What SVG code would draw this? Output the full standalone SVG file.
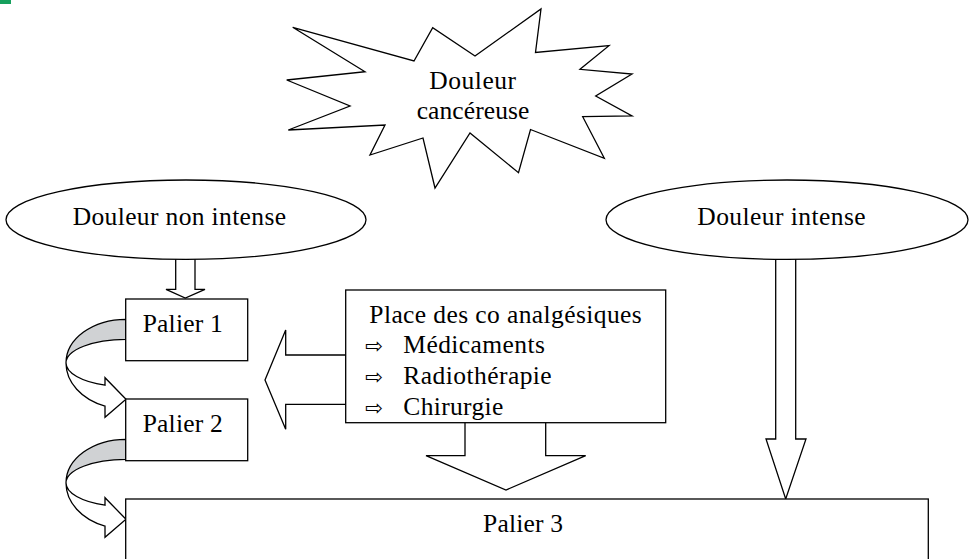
<svg xmlns="http://www.w3.org/2000/svg" width="974" height="559" viewBox="0 0 974 559">
<style>
.s{fill:#fff;stroke:#000;stroke-width:1.3;stroke-linejoin:miter}
.g{fill:#d0d2d4;stroke:#000;stroke-width:1.3}
.t{font-family:"Liberation Serif","Times New Roman",serif;font-size:25.5px;fill:#000}
.b{font-family:"DejaVu Sans",sans-serif;font-size:21px;fill:#000}
</style>
<defs>
<g id="curve">
<path class="g" d="M126,319.3 A60,43.7 0 0 0 66,363 A60,23.7 0 0 1 126,339.3 Z"/>
<path class="s" d="M66,363 A60,46 0 0 0 105,406.1 L105,417.3 L126,399.3 L105,377.7 L105,385.2 A60,23.7 0 0 1 66,363 Z"/>
</g>
</defs>
<rect x="0" y="0" width="11" height="4" fill="#16a05d"/>
<g id="connectors">
<polygon class="s" points="175.7,258 195,258 195,289.3 205,289.3 185.3,298 166,289.3 175.7,289.3"/>
<polygon class="s" points="775.7,258 795.7,258 795.7,439 806,439 785.7,499 766,439 775.7,439"/>
<polygon class="s" points="346,355 285.7,355 285.7,330 265,380 285.7,429.3 285.7,404.3 346,404.3"/>
<polygon class="s" points="465,422 465,455.7 426,455.7 506,490 585.7,455.7 545.7,455.7 545.7,422"/>
<use href="#curve"/>
<use href="#curve" transform="translate(0,120)"/>
</g>
<g id="star">
<polygon class="s" points="292.7,27.3 414,61 432.7,27.7 475,56 541,9 535.5,52.5 609,45.7 580,69.3 632,74 595.7,96 632,116 582.7,116.7 604.3,158.3 530.5,129.5 518.5,172.7 470,133 435,188 423,138 370,155 385,125 288.3,130 350,106 286.7,80 365,71.7"/>
<text class="t" x="429.3" y="89.3" textLength="86.7">Douleur</text>
<text class="t" x="416.7" y="119.3" textLength="112.6">cancéreuse</text>
</g>
<g id="douleur-non-intense">
<ellipse class="s" cx="186" cy="219.7" rx="180" ry="39.7"/>
<text class="t" x="72.7" y="225" textLength="213.3">Douleur non intense</text>
</g>
<g id="douleur-intense">
<ellipse class="s" cx="787" cy="219.7" rx="181" ry="39.7"/>
<text class="t" x="697.3" y="225" textLength="168.4">Douleur intense</text>
</g>
<g id="palier1">
<rect class="s" x="125.7" y="299" width="122" height="61.7"/>
<text class="t" x="142.7" y="331.7" textLength="80">Palier 1</text>
</g>
<g id="palier2">
<rect class="s" x="125.7" y="399" width="122" height="61.7"/>
<text class="t" x="142.7" y="431.7" textLength="80">Palier 2</text>
</g>
<g id="palier3">
<rect class="s" x="125.7" y="499" width="802.6" height="80"/>
<text class="t" x="483" y="531.7" textLength="80">Palier 3</text>
</g>
<g id="co-analgesiques">
<rect class="s" x="345.7" y="290" width="320" height="132.7"/>
<text class="t" x="369.3" y="323.3" textLength="272.4">Place des co analgésiques</text>
<text class="b" x="365" y="353.3">⇨</text>
<text class="t" x="403.3" y="353.3" textLength="141.7">Médicaments</text>
<text class="b" x="365" y="384.3">⇨</text>
<text class="t" x="403.3" y="384.3" textLength="148.4">Radiothérapie</text>
<text class="b" x="365" y="415">⇨</text>
<text class="t" x="403.3" y="415" textLength="100">Chirurgie</text>
</g>
</svg>
